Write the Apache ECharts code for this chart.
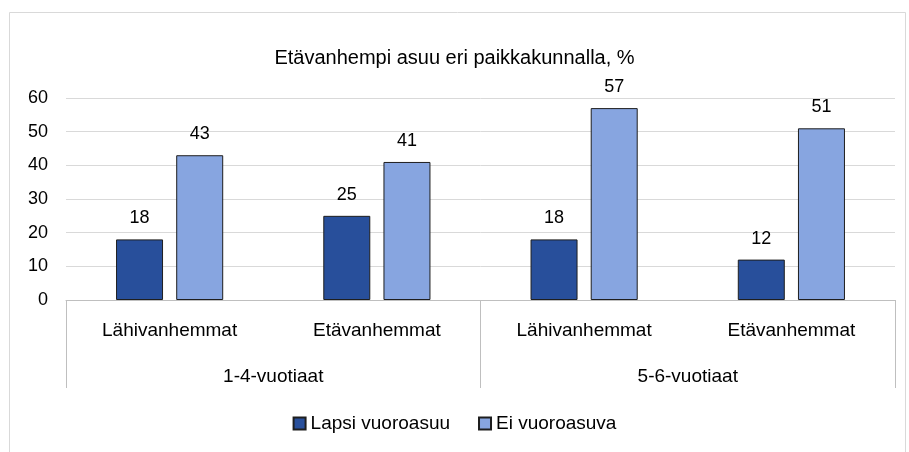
<!DOCTYPE html>
<html>
<head>
<meta charset="utf-8">
<script src="https://cdn.jsdelivr.net/npm/echarts@6/dist/echarts.min.js"></script>
<style>
  html, body { margin: 0; padding: 0; background: #fff; }
  #chart { width: 909px; height: 452px; }
</style>
</head>
<body>
<div id="chart"></div>
<script>
// data
const title = 'Etävanhempi asuu eri paikkakunnalla, %';
const categories = ['Lähivanhemmat', 'Etävanhemmat', 'Lähivanhemmat', 'Etävanhemmat'];
const groups = ['1-4-vuotiaat', '5-6-vuotiaat'];
const seriesNames = ['Lapsi vuoroasuu', 'Ei vuoroasuva'];
const lapsiVuoroasuu = [18, 25, 18, 12];
const eiVuoroasuva = [43, 41, 57, 51];
const colors = ['#284F9B', '#87A5E0'];

const font = 'Arial, "Liberation Sans", sans-serif';

const myChart = echarts.init(document.getElementById('chart'));

function barSeries(name, values, color) {
    return {
        name: name,
        type: 'bar',
        xAxisIndex: 0,
        data: values,
        barWidth: 47,
        barGap: '28%',
        itemStyle: {
            color: color,
            borderColor: '#1e1e1e',
            borderWidth: 1
        },
        label: {
            show: true,
            position: 'top',
            distance: 12,
            color: '#000',
            fontFamily: font,
            fontSize: 18
        }
    };
}

const option = {
    animation: false,
    backgroundColor: '#fff',
    graphic: [{
        // chart frame
        type: 'rect',
        shape: { x: 9.5, y: 12.5, width: 896, height: 460 },
        style: { fill: 'none', stroke: '#d9d9d9', lineWidth: 1 },
        silent: true
    }],
    title: {
        text: title,
        left: 'center',
        top: 43,
        textStyle: {
            fontFamily: font,
            fontSize: 20,
            fontWeight: 'normal',
            color: '#000'
        }
    },
    legend: {
        bottom: 14,
        left: 'center',
        itemWidth: 12,
        itemHeight: 12,
        itemGap: 28,
        icon: 'rect',
        textStyle: { fontFamily: font, fontSize: 19, color: '#000' },
        data: seriesNames
    },
    grid: {
        left: 66,
        right: 14,
        top: 98,
        bottom: 152
    },
    xAxis: [
        {
            type: 'category',
            data: categories,
            axisLine: { show: true, lineStyle: { color: '#bfbfbf', width: 1 } },
            axisTick: { show: false },
            axisLabel: {
                interval: 0,
                margin: 21,
                color: '#000',
                fontFamily: font,
                fontSize: 19
            }
        },
        {
            // outer group level
            type: 'category',
            position: 'bottom',
            data: groups,
            axisLine: { show: false },
            axisTick: {
                show: true,
                interval: 0,
                length: 88,
                lineStyle: { color: '#bfbfbf', width: 1 }
            },
            axisLabel: {
                interval: 0,
                margin: 67,
                color: '#000',
                fontFamily: font,
                fontSize: 19
            },
            splitLine: { show: false }
        }
    ],
    yAxis: {
        type: 'value',
        min: 0,
        max: 60,
        interval: 10,
        axisLine: { show: false },
        axisTick: { show: false },
        splitLine: { lineStyle: { color: '#d9d9d9', width: 1 } },
        axisLabel: {
            margin: 18,
            color: '#000',
            fontFamily: font,
            fontSize: 18
        }
    },
    series: [
        barSeries(seriesNames[0], lapsiVuoroasuu, colors[0]),
        barSeries(seriesNames[1], eiVuoroasuva, colors[1])
    ]
};

myChart.setOption(option);
</script>
</body>
</html>
